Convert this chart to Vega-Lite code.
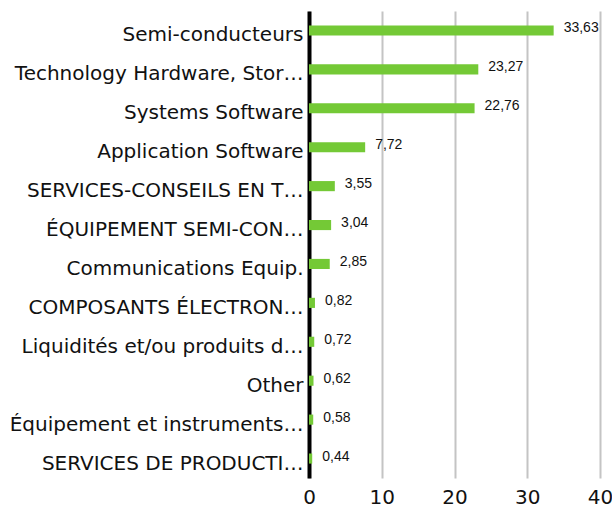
{
  "$schema": "https://vega.github.io/schema/vega-lite/v6.json",
  "autosize": {"type": "none"},
  "width": 291,
  "height": 467,
  "padding": {"left": 309, "top": 11, "right": 12, "bottom": 30},
  "background": "white",
  "config": {
    "view": {"stroke": null},
    "locale": {"number": {"decimal": ",", "thousands": " ", "grouping": [3], "currency": ["", " €"]}},
    "font": "DejaVu Sans"
  },
  "data": {
    "values": [
      {"secteur": "Semi-conducteurs", "poids": 33.63},
      {"secteur": "Technology Hardware, Stor…", "poids": 23.27},
      {"secteur": "Systems Software", "poids": 22.76},
      {"secteur": "Application Software", "poids": 7.72},
      {"secteur": "SERVICES-CONSEILS EN T…", "poids": 3.55},
      {"secteur": "ÉQUIPEMENT SEMI-CON…", "poids": 3.04},
      {"secteur": "Communications Equip.", "poids": 2.85},
      {"secteur": "COMPOSANTS ÉLECTRON…", "poids": 0.82},
      {"secteur": "Liquidités et/ou produits d…", "poids": 0.72},
      {"secteur": "Other", "poids": 0.62},
      {"secteur": "Équipement et instruments…", "poids": 0.58},
      {"secteur": "SERVICES DE PRODUCTI…", "poids": 0.44}
    ]
  },
  "encoding": {
    "y": {
      "field": "secteur",
      "type": "nominal",
      "sort": null,
      "scale": {"paddingInner": 0.74, "paddingOuter": 0.37},
      "axis": {
        "title": null,
        "ticks": false,
        "labelFontSize": 20,
        "labelColor": "#111111",
        "labelPadding": 6,
        "labelOffset": 5,
        "labelLimit": 400,
        "domainColor": "#000000",
        "domainWidth": 4
      }
    },
    "x": {
      "field": "poids",
      "type": "quantitative",
      "scale": {"domain": [0, 40], "nice": false},
      "axis": {
        "title": null,
        "values": [0, 10, 20, 30, 40],
        "format": "d",
        "ticks": false,
        "domain": false,
        "labelFlush": false,
        "labelFontSize": 20,
        "labelColor": "#111111",
        "labelPadding": 9,
        "gridColor": "#c4c4c4",
        "gridWidth": 2
      }
    }
  },
  "layer": [
    {"mark": {"type": "bar", "color": "#74c936"}},
    {
      "mark": {"type": "text", "align": "left", "baseline": "middle", "dx": 10, "dy": -2, "fontSize": 14, "font": "Liberation Sans", "color": "#111111"},
      "encoding": {"text": {"field": "poids", "type": "quantitative", "format": ".2f"}}
    }
  ]
}
